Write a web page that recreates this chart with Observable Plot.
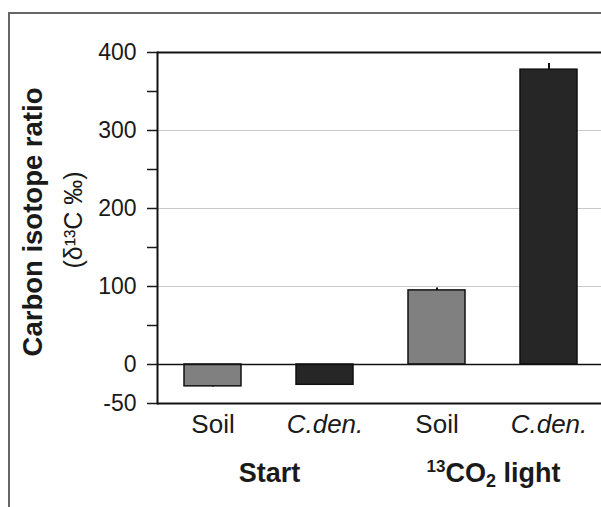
<!DOCTYPE html>
<html>
<head>
<meta charset="utf-8">
<script src="https://cdn.jsdelivr.net/npm/d3@7"></script>
<script src="https://cdn.jsdelivr.net/npm/@observablehq/plot@0.6"></script>
<style>
  body { margin: 0; background: #fff; }
  #panel { position: absolute; left: 8px; top: 12px; width: 700px; height: 600px;
           border-left: 2px solid #666; border-top: 2px solid #666; }
  #chart { position: absolute; left: 0; top: 0; }
</style>
</head>
<body>
<div id="panel"></div>
<div id="chart"></div>
<script>
// Carbon isotope ratio (δ13C ‰) of soil and C. den. before and after 13CO2 labelling
const groups = ["Start", "13CO2 light"];
const samples = ["Soil", "C.den."];
const groupOf = ["Start", "Start", "13CO2 light", "13CO2 light"];
const sampleOf = ["Soil", "C.den.", "Soil", "C.den."];
const values = [-28, -26, 95, 378];
const errors = [1, 1, 3, 8];
const yMajor = [-50, 0, 100, 200, 300, 400];
const yMinor = [50, 150, 250, 350];
const gridValues = [100, 200, 300];

const rows = values.map((v, i) => ({group: groupOf[i], sample: sampleOf[i], value: v, err: errors[i]}));
const font = "'Liberation Sans', Arial, Helvetica, sans-serif";

const chart = Plot.plot({
  width: 601,
  height: 507,
  marginTop: 52,
  marginBottom: 104,
  marginLeft: 157,
  marginRight: -4,
  style: {fontFamily: font, background: "transparent", color: "#1a1a1a", overflow: "visible"},
  fx: {domain: groups, padding: 0, label: null},
  x: {domain: samples, paddingInner: 0.49, paddingOuter: 0.245, label: null},
  y: {domain: [-50, 400], label: null},
  color: {domain: samples, range: ["#808080", "#262626"]},
  marks: [
    Plot.ruleY(gridValues, {stroke: "#c8c8c8", strokeWidth: 1}),
    Plot.barY(rows, {fx: "group", x: "sample", y: "value", fill: "sample", stroke: "#111", strokeWidth: 1.5}),
    Plot.ruleX(rows, {fx: "group", x: "sample", y1: "value",
                      y2: d => d.value + Math.sign(d.value) * d.err, stroke: "#111", strokeWidth: 2}),
    Plot.ruleY([0], {stroke: "#111", strokeWidth: 1.5}),
    Plot.ruleY([-50, 400], {stroke: "#111", strokeWidth: 2}),
    Plot.frame({anchor: "left", facet: "super", stroke: "#111", strokeWidth: 2}),
    Plot.axisY(yMajor, {tickSize: 10, tickPadding: 11, fontSize: 23, strokeWidth: 1.5,
                        tickFormat: d => String(d), label: null}),
    Plot.axisY(yMinor, {tickSize: 10, tickFormat: () => "", strokeWidth: 1.5, label: null}),
    Plot.axisX(["Soil"], {tickSize: 0, tickPadding: 11, fontSize: 26, label: null}),
    Plot.axisX(["C.den."], {tickSize: 0, tickPadding: 11, fontSize: 26, fontStyle: "italic", label: null}),
    Plot.axisFx({anchor: "bottom", tickSize: 0, tickPadding: 59, fontSize: 27, fontWeight: "bold", label: null}),
    Plot.text([{group: "Start"}], {fx: "group", text: () => "Carbon isotope ratio", frameAnchor: "left",
                                   textAnchor: "middle", rotate: -90, dx: -124, dy: -6,
                                   fontSize: 27.5, fontWeight: "bold"}),
    Plot.text([{group: "Start"}], {fx: "group", text: () => "(δ¹³C ‰)", frameAnchor: "left",
                                   textAnchor: "middle", rotate: -90, dx: -84, dy: -8, fontSize: 25})
  ]
});

// Typeset the 13CO2 group label with a superscript mass number and subscript 2
d3.select(chart).selectAll("text")
  .filter(function () { return this.textContent === "13CO2 light"; })
  .each(function () {
    const t = d3.select(this).text(null);
    t.append("tspan").attr("font-size", 17).attr("dy", -10).text("13");
    t.append("tspan").attr("dy", 10).text("CO");
    t.append("tspan").attr("font-size", 18).attr("dy", 5).text("2");
    t.append("tspan").attr("dy", -5).text(" light");
  });

document.getElementById("chart").append(chart);
</script>
</body>
</html>
